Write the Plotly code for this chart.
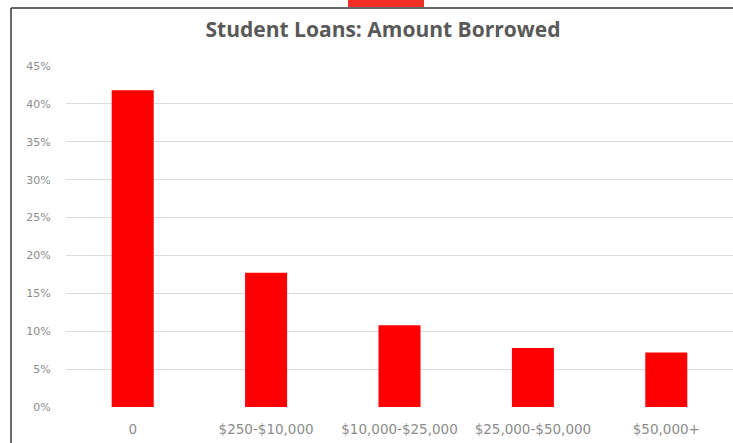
import plotly.graph_objects as go

# Share of students by amount borrowed
categories = ["0", "$250-$10,000", "$10,000-$25,000", "$25,000-$50,000", "$50,000+"]
shares = [41.8, 17.7, 10.8, 7.8, 7.2]  # percent
y_ticks = [0, 5, 10, 15, 20, 25, 30, 35, 40, 45]
y_tick_labels = [f"{v}%" for v in y_ticks]

W, H = 733, 443
L, R, T, B = 66, 0, 66, 36
pw, ph = W - L - R, H - T - B

def px_x(x):
    return (x - L) / pw

def px_y(y):
    return (H - B - y) / ph

fig = go.Figure()
fig.add_trace(go.Bar(
    x=categories, y=shares,
    marker=dict(color="#ff0000", line=dict(width=0)),
    width=0.315,
    hoverinfo="x+y",
))

fig.update_layout(
    width=W, height=H,
    margin=dict(l=L, r=R, t=T, b=B),
    paper_bgcolor="white", plot_bgcolor="white",
    showlegend=False,
    title=dict(
        text="<b>Student Loans: Amount Borrowed</b>",
        x=px_x(383), xref="paper", xanchor="center",
        y=1 - 30 / H, yanchor="middle",
        font=dict(family="Open Sans, Liberation Sans, sans-serif", size=21, color="#595959"),
    ),
    xaxis=dict(
        showgrid=False, showline=False, zeroline=False,
        ticks="outside", ticklen=10, tickcolor="rgba(0,0,0,0)",
        tickfont=dict(family="DejaVu Sans, sans-serif", size=13.5, color="#8c8c8c"),
    ),
    yaxis=dict(
        range=[0, 45], tickvals=y_ticks, ticktext=y_tick_labels,
        showgrid=True, gridcolor="#dcdcdc", gridwidth=1,
        zeroline=False, showline=False,
        ticks="outside", ticklen=12, tickcolor="rgba(0,0,0,0)",
        tickfont=dict(family="DejaVu Sans, sans-serif", size=11, color="#8c8c8c"),
    ),
    shapes=[
        # chart frame: top and left edges
        dict(type="line", xref="paper", yref="paper",
             x0=px_x(11), x1=1.0, y0=px_y(8), y1=px_y(8),
             line=dict(color="#3a3a3a", width=1.5)),
        dict(type="line", xref="paper", yref="paper",
             x0=px_x(11), x1=px_x(11), y0=px_y(8), y1=px_y(443),
             line=dict(color="#3a3a3a", width=1.5)),
        # red tab above the frame
        dict(type="rect", xref="paper", yref="paper",
             x0=px_x(348), x1=px_x(424), y0=px_y(0), y1=px_y(7),
             fillcolor="#ee3124", line=dict(width=0), layer="above"),
    ],
)

fig.write_html("out.html")
